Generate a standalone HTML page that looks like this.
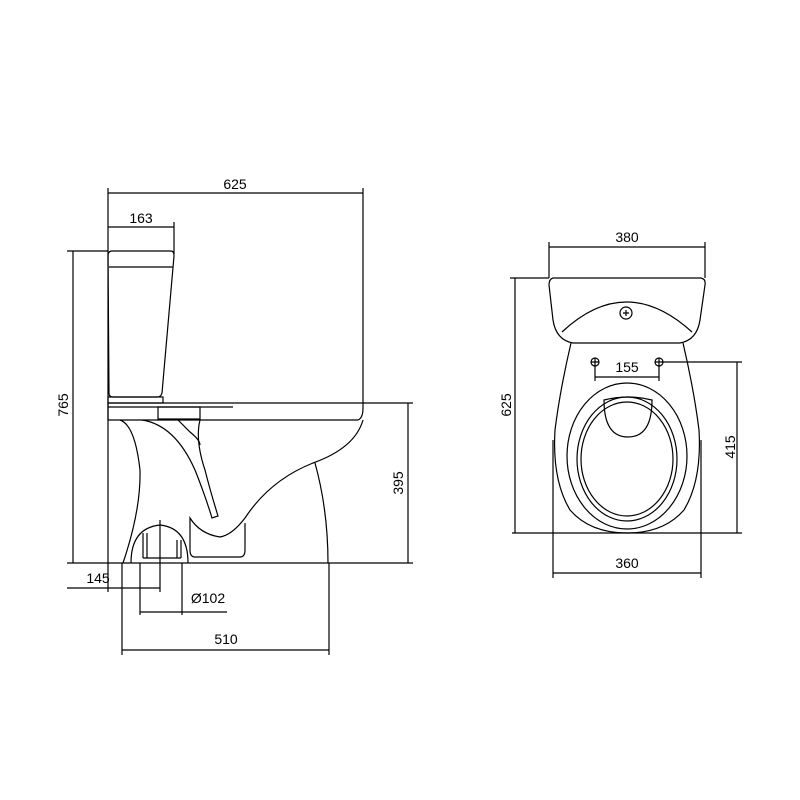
<!DOCTYPE html>
<html><head><style>body{margin:0;background:#fff}svg{display:block}</style></head><body>
<svg width="800" height="800" viewBox="0 0 800 800" xmlns="http://www.w3.org/2000/svg" font-family="Liberation Sans, sans-serif" font-size="14" fill="none" stroke="#000" stroke-width="1.2">
<!-- SIDE VIEW dims -->
<line x1="108" y1="193" x2="363" y2="193"/>
<line x1="108" y1="188" x2="108" y2="592"/>
<line x1="363" y1="188" x2="363" y2="403"/>
<line x1="108" y1="227" x2="174" y2="227"/>
<line x1="174" y1="222" x2="174" y2="254"/>
<line x1="73" y1="251" x2="73" y2="563"/>
<line x1="67" y1="251" x2="108" y2="251"/>
<line x1="67" y1="563" x2="413" y2="563"/>
<line x1="408" y1="403" x2="408" y2="563"/>
<line x1="363" y1="403" x2="413" y2="403"/>
<line x1="67" y1="588" x2="160" y2="588"/>
<line x1="160" y1="520" x2="160" y2="592"/>
<line x1="140" y1="563" x2="140" y2="615"/>
<line x1="182" y1="563" x2="182" y2="615"/>
<line x1="140" y1="612" x2="227" y2="612"/>
<line x1="122" y1="563" x2="122" y2="655"/>
<line x1="329" y1="563" x2="329" y2="655"/>
<line x1="122" y1="650" x2="329" y2="650"/>
<g fill="#000" stroke="none">
<text x="235" y="189" text-anchor="middle">625</text>
<text x="141" y="223" text-anchor="middle">163</text>
<text x="98" y="583" text-anchor="middle">145</text>
<text x="208" y="603" text-anchor="middle">Ø102</text>
<text x="226" y="644" text-anchor="middle">510</text>
<text transform="translate(68,405) rotate(-90)" text-anchor="middle">765</text>
<text transform="translate(403,483) rotate(-90)" text-anchor="middle">395</text>
</g>
<!-- tank -->
<path d="M112 251 H171 Q174 251 174 256 L162 393 Q161 397 157 397 H113 Q109 397 109 393 L108 256 Q108 251 112 251 Z"/>
<line x1="109" y1="267" x2="173" y2="267"/>
<rect x="108" y="397" width="55" height="6"/>
<!-- seat/lid -->
<path d="M108 403 H363 V408 Q363 418 358 420 H108 Z"/>
<line x1="108" y1="407" x2="233" y2="407"/>
<rect x="158" y="407" width="42" height="12"/>
<!-- bowl -->
<path d="M363 420 Q355 448 313 463 Q270 480 245 518 Q232 535 220 537 Q200 534 190 518 L190 550 Q190 557 195 557 H240 Q245 557 245 550 L245 523"/>
<path d="M315 463 Q328 510 328 563"/>
<path d="M120 420 Q135 425 140 470 Q141 510 123 563"/>
<path d="M142 420 Q175 425 195 470 Q205 495 212 518 L218 516 Q210 490 205 470 Q195 440 200 420"/>
<path d="M178 420 L190 432 Q200 440 200 445"/>
<!-- drain -->
<path d="M131 563 Q131 528 160 525 Q188 528 188 563"/>
<line x1="143" y1="533" x2="143" y2="558"/><line x1="147" y1="533" x2="147" y2="558"/>
<line x1="177" y1="540" x2="177" y2="558"/><line x1="181" y1="540" x2="181" y2="558"/>
<line x1="143" y1="558" x2="181" y2="558"/>
<!-- TOP VIEW dims -->
<line x1="549" y1="247" x2="705" y2="247"/>
<line x1="549" y1="242" x2="549" y2="278"/>
<line x1="705" y1="242" x2="705" y2="278"/>
<line x1="515" y1="278" x2="515" y2="533"/>
<line x1="510" y1="278" x2="549" y2="278"/>
<line x1="512" y1="533" x2="742" y2="533"/>
<line x1="737" y1="362" x2="737" y2="533"/>
<line x1="663" y1="362" x2="742" y2="362"/>
<line x1="595" y1="366" x2="595" y2="381"/>
<line x1="659" y1="366" x2="659" y2="381"/>
<line x1="595" y1="377" x2="659" y2="377"/>
<line x1="553" y1="440" x2="553" y2="578"/>
<line x1="701" y1="440" x2="701" y2="578"/>
<line x1="553" y1="573" x2="701" y2="573"/>
<g fill="#000" stroke="none">
<text x="627" y="242" text-anchor="middle">380</text>
<text x="627" y="372" text-anchor="middle">155</text>
<text x="627" y="568" text-anchor="middle">360</text>
<text transform="translate(511,405) rotate(-90)" text-anchor="middle">625</text>
<text transform="translate(735,447) rotate(-90)" text-anchor="middle">415</text>
</g>
<!-- tank top -->
<path d="M553 278 H701 Q706 279 705 285 L700 320 Q697 340 680 343 H573 Q556 340 553 320 L549 285 Q549 279 553 278 Z"/>
<path d="M562 332 Q626 272 692 332"/>
<circle cx="626" cy="313" r="6"/>
<path d="M623 313 H629 M626 310 V316"/>
<!-- bowl -->
<path d="M571 343 Q560 390 555 430 Q552 480 570 510 Q590 533 627 533 Q664 533 684 510 Q702 480 699 430 Q694 390 683 343"/>
<ellipse cx="627" cy="456" rx="60" ry="73"/>
<ellipse cx="627" cy="459" rx="50" ry="62"/>
<ellipse cx="627" cy="459" rx="46" ry="57"/>
<path d="M604 400 Q604 437 628 437 Q652 437 652 400 Q628 394 604 400 Z"/>
<circle cx="595" cy="362" r="4"/><path d="M591 362 H599 M595 358 V366"/>
<circle cx="659" cy="362" r="4"/><path d="M655 362 H663 M659 358 V366"/>
</svg>
</body></html>
